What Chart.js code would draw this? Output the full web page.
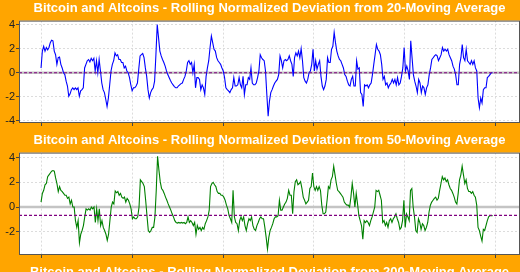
<!DOCTYPE html>
<html>
<head>
<meta charset="utf-8">
<script src="https://cdn.jsdelivr.net/npm/chart.js@4"></script>
<style>
  body { margin: 0; background: #FFA500; width: 520px; height: 272px; overflow: hidden; }
  .panel { position: relative; width: 520px; height: 132px; }
</style>
</head>
<body>
<div class="panel"><canvas id="c20"></canvas></div>
<div class="panel"><canvas id="c50"></canvas></div>
<div class="panel"><canvas id="c200"></canvas></div>
<script>
// Normalized deviation from the 20-day moving average
const dev20 = [
  0.4, 1.8, 2.2, 1.8, 2.1, 1.9, 2.1, 2.5, 2.7, 2.65, 1.8, 1.5, 0.7, 1.25, 1.3, 0.7, 0.4, 0, -0.15, -0.7,
  -1.1, -1.95, -1.75, -1.4, -1.25, -1.4, -1.25, -1.4, -1.25, -1.95, -1.5, -1.4, -1.25, 0.4, 0.7, 1.0, 1.1, 0.9, 1.2, 1.0,
  1.2, 0.15, 1.0, 0, 1.1, 0.15, -0.85, -1.4, -1.65, -2.2, -2.8, -2.1, -1.0, 0.15, 0.7, 1.0, 1.65, 1.4, 1.5, 1.1,
  1.1, 0.85, 0.85, 0.4, 0.55, 0.15, 0, -0.4, -1.0, -1.5, -1.25, -1.25, -1.1, -0.85, 0.3, 1.4, 1.5, 1.6, 1.25, 0.4,
  -0.3, -1.4,
  -2.1, -1.65, -1.4, -1.25, -0.7, 1.5, 4.0, 2.9, 1.8, 1.4, 1.1, 0.85, 0.55, 0.15, -0.15, -0.4, -0.65, -0.85, -1.0, -1.15,
  -1.25, -1.25, -1.1, -1.0, -0.9, -0.85, -0.55, -0.3, 0.15, 0.85, 1.0, 0.7, 0.85, 0, 0.7, -1.25, -0.4, -0.4, -0.55, -1.4,
  -1.0, -1.25, -1.8, -0.3, 0.4, 1.0, 2.1, 3.05, 2.5, 1.95, 1.8, 1.25, 1.0, 0.85, 0.7, 0.4, 0.15, -0.4, -1.25, -1.4,
  -1.5, -1.65, -1.4, -1.25, -0.4, -1.1, -1.1, -1.0, -0.4, -1.0, -1.25, -0.3, -1.8, -1.0, -1.0, -0.4, -0.55, 0.4, -0.85, -1.0,
  -1.0, -0.85, -0.4, 0.15, 1.5, 1.25, 1.1,
  1.0, 0.15, -1.8, -3.6, -2.35, -1.65, -1.4, -1.1, -0.85, -0.7, -0.55, -0.15, 1.4, 1.0, 0.4, 1.0, 1.1, 1.0, 1.1, 1.4,
  1.0, 0.7, -0.3, 1.25, 1.65, 1.4, 1.8, 1.25, 2.0, 1.0, -0.4, -0.7, -0.85, -0.55, 0, 0.15, 0.7, 1.95, 0.15, 1.0,
  0.3, 0.7, 1.0, -0.3, -1.1, -1.4, -1.1, -0.55, 1.25, 0.85, 0.85, 1.95, 2.2, 3.35, 2.5, 1.8, 1.4, 1.1, 1.0, 0.7,
  0.4, -0.15, -0.3, -0.7, -1.0, -1.1, -0.55, -0.3, -1.1, -1.1, 1.0, 0.3, 0.4, -1.65, -1.8, -2.8, -1.0, -1.1, -1.0, -1.25,
  -1.0, -0.85, -0.15, 0.7, 1.5, 2.35,
  1.95, 1.8, 1.5, 0.7, -0.55, -0.3, -1.0, -0.85, -1.25, -1.0, -0.85, -0.55, -0.85, -0.55, -1.0, -0.4, -1.0, -0.85, -0.3, 0.4,
  2.1, 0.15, 0.55, 0.15, -0.55, 2.65, 1.25, -0.15, -0.7, -1.1, -1.65, -0.55, -0.85, -1.65, -1.1, -1.25, -1.8, -1.25, -1.0, -0.15,
  0.4, 1.1, 1.25, 1.4, 1.5, 1.4, 1.0, 1.25, 1.5, 2.1, 1.8, 1.95, 1.8, 1.95, 1.5, 1.25, 1.0, 0.55, 0.3, -0.15,
  -1.0, -1.0, 0.7, 1.25, 2.35, 1.25, 1.0, 1.95, 1.0, 0.85, 0.7, 1.0, 0.7, 1.0, 0.4, 0.15, -2.1, -2.9, -2.1, -2.5,
  -1.4, -1.25, -1.25, -0.4, -0.3, -0.15, 0, 0
];

// Normalized deviation from the 50-day moving average
const dev50 = [
  0.4, 1.1, 1.35, 1.8, 1.9, 2.45, 2.6, 2.75, 2.9, 2.95, 2.9, 2.35, 1.9, 1.25, 1.65, 1.35, 1.25, 1.1, 0.95, 0.95,
  0.7, 0.8, 0.25, 0.55, 0, 0, -1.1, -1.65, -1.1, -2.9, -2.2, -1.9, -1.5, -0.8, -0.15, -0.25, -0.15, -0.25, 0, -0.15,
  0, -1.25, -0.15, -1.1, -0.15, -1.5, -1.1, -1.65, -1.9, -2.2, -2.7, -2.2, -1.1, 0, 0.4, 0.25, 1.3, 1.15, 1.25, 0.95,
  1.1, 0.8, 0.7, 0.8, 0.4, 0.7, 0.55, 0.25, -0.15, -0.95, -0.8, -0.95, -0.95, -0.8, 0, 2.2, 2.05, 1.9, 1.65, 0.55,
  -0.7, -1.9,
  -2.05, -1.9, -1.65, -1.65, -0.8, 1.35, 4.1, 3.0, 2.05, 1.5, 1.35, 1.1, 0.8, 0.55, 0.25, 0, -0.25, -0.55, -0.8, -1.1,
  -1.25, -1.3, -1.25, -1.3, -1.25, -1.3, -1.25, -1.35, -1.25, -0.8, -1.25, -1.1, -1.25, -1.5, -1.25, -2.2, -1.5, -1.8, -1.65, -1.9,
  -1.65, -1.8, -1.35, -1.1, -0.8, -0.25, 1.65, 1.9, 2.0, 1.8, 1.65, 1.25, 1.1, 1.1, 0.95, 0.95, 0.8, 0.55, 0.15, -0.15,
  -0.7, -0.95, -1.25, 1.35, -0.8, -1.25, -1.35, -1.9, -1.1, -0.8, -1.1, -0.8, -1.5, -1.9, -1.35, -0.95, -1.1, -0.8, -1.5, -1.8,
  -1.9, -1.5, -1.25, -0.95, -0.8, -0.95, -0.95,
  -1.65, -2.45, -3.4, -2.45, -1.9, -1.65, -1.35, -0.95, -0.8, -0.8, -0.7, 0.55, -0.25, -0.25, 0, 0.25, 0.4, 0.7, 1.35, 0.95,
  0.95, -0.55, 1.25, 2.05, 2.2, 1.8, 1.9, 2.05, 1.5, 0.8, 0.55, 0.25, 0.4, 0.55, 1.5, 1.65, 2.75, 1.65, 1.35, 1.65,
  1.35, 1.65, 1.35, 0.15, -0.55, -0.55, -0.4, 0.55, 1.65, 1.5, 2.2, 2.45, 3.3, 2.6, 1.9, 1.35, 1.25, 1.1, 0.95, 0.8,
  0.4, 0.25, 0.15, 0.15, 0, 0.8, 1.9, 1.1, 0, 1.1, 0.25, -0.7, -1.1, -1.5, -2.6, -1.1, -1.25, -1.1, -1.25, -1.5,
  -1.1, -0.8, -0.4, 0, 1.35,
  1.25, 1.35, 0.95, 0.55, -1.25, -1.1, -1.5, -1.25, -1.65, -1.1, -0.95, -1.25, -0.95, -0.8, -0.55, -0.95, -1.25, -1.8, -1.65, -1.1,
  0.55, -1.65, -0.55, -0.8, -1.1, 1.35, 1.5, 0, -0.8, -1.9, -2.05, -0.95, -1.25, -1.8, -1.35, -1.5, -1.9, -1.65, -1.25, -0.4,
  0.15, 0.4, 0.55, 0.7, 0.8, 0.55, 0.7, 1.35, 1.9, 2.45, 2.2, 2.35, 2.05, 2.2, 1.8, 1.5, 1.35, 1.1, 0.8, 0.4,
  0.25, 1.1, 2.2, 2.6, 3.3, 2.6, 1.9, 2.2, 1.5, 1.25, 1.25, 1.1, 1.25, 0.95, 0.8, 0.15, -1.65, -1.9, -2.35, -2.75,
  -1.8, -1.9, -1.5, -1.1, -0.8, -0.7, -0.7, -0.7
];

const mean20 = 0.0;
const mean50 = -0.68;
const yTicks20 = [-4, -2, 0, 2, 4];
const yTicks50 = [-2, 0, 2, 4];
const xTicks = [0, 68.1, 136.2, 204.3, 272.4, 340.5];

const titles = {
  c20: 'Bitcoin and Altcoins - Rolling Normalized Deviation from 20-Moving Average',
  c50: 'Bitcoin and Altcoins - Rolling Normalized Deviation from 50-Moving Average',
  c200: 'Bitcoin and Altcoins - Rolling Normalized Deviation from 200-Moving Average'
};

const X_MIN = -16.5, X_MAX = 358.5, LAST = 338;

// spread the readings evenly over the same time span
function toPoints(values) {
  return values.map((v, i) => ({ x: i * LAST / (values.length - 1), y: v }));
}

function hLine(value) {
  return [{ x: X_MIN, y: value }, { x: X_MAX, y: value }];
}

// white plot area with a dark frame
const frame = {
  id: 'frame',
  beforeDraw(chart) {
    const a = chart.chartArea, ctx = chart.ctx;
    ctx.save();
    ctx.fillStyle = '#ffffff';
    ctx.fillRect(a.left, a.top, a.right - a.left, a.bottom - a.top);
    ctx.restore();
  },
  afterDatasetsDraw(chart) {
    const a = chart.chartArea, ctx = chart.ctx;
    ctx.save();
    ctx.strokeStyle = '#555';
    ctx.lineWidth = 1;
    ctx.strokeRect(a.left + 0.5, a.top + 0.5, a.right - a.left - 1, a.bottom - a.top - 1);
    ctx.restore();
  }
};

Chart.defaults.font.family = '"Liberation Sans", Arial, sans-serif';
Chart.defaults.animation = false;

function titleOpts(text) {
  return {
    display: true,
    text: text,
    fullSize: false,
    color: '#ffffff',
    font: { size: 13, weight: 'bold' },
    padding: { top: 1, bottom: 4 }
  };
}

function makeChart(id, values, color, mean, yMin, yMax, yTicks) {
  new Chart(document.getElementById(id), {
    type: 'line',
    data: {
      datasets: [
        { data: hLine(0), borderColor: '#c4c4c4', borderWidth: 2.5, pointRadius: 0, order: 3 },
        { data: hLine(mean), borderColor: '#800080', borderWidth: 1.2, borderDash: [3, 2], pointRadius: 0, order: 1 },
        { data: toPoints(values), borderColor: color, borderWidth: 1.1, pointRadius: 0, tension: 0, order: 2 }
      ]
    },
    options: {
      responsive: true,
      maintainAspectRatio: false,
      layout: { padding: { left: 0, right: 0, top: 0, bottom: 6 } },
      plugins: {
        legend: { display: false },
        tooltip: { enabled: false },
        title: titleOpts(titles[id])
      },
      scales: {
        x: {
          type: 'linear',
          min: X_MIN,
          max: X_MAX,
          afterBuildTicks: s => { s.ticks = xTicks.map(v => ({ value: v })); },
          ticks: { display: false },
          grid: { color: '#dcdcdc', tickColor: '#444', tickLength: 3, drawTicks: true },
          border: { display: false, dash: [2, 2] }
        },
        y: {
          min: yMin,
          max: yMax,
          afterBuildTicks: s => { s.ticks = yTicks.map(v => ({ value: v })); },
          afterFit: s => { s.width = 19; },
          ticks: { color: '#222', font: { size: 11 }, padding: 1 },
          grid: { color: '#dcdcdc', tickColor: '#444', tickLength: 3 },
          border: { display: false, dash: [2, 2] }
        }
      }
    },
    plugins: [frame]
  });
}

makeChart('c20', dev20, '#0000ff', mean20, -4.17, 4.33, yTicks20);
makeChart('c50', dev50, '#008000', mean50, -3.88, 4.4, yTicks50);

// third panel: only its title falls inside the window
new Chart(document.getElementById('c200'), {
  type: 'line',
  data: { datasets: [] },
  options: {
    responsive: true,
    maintainAspectRatio: false,
    layout: { padding: { left: 19 } },
    plugins: {
      legend: { display: false },
      title: titleOpts(titles.c200)
    },
    scales: { x: { display: false }, y: { display: false } }
  }
});
</script>
</body>
</html>
